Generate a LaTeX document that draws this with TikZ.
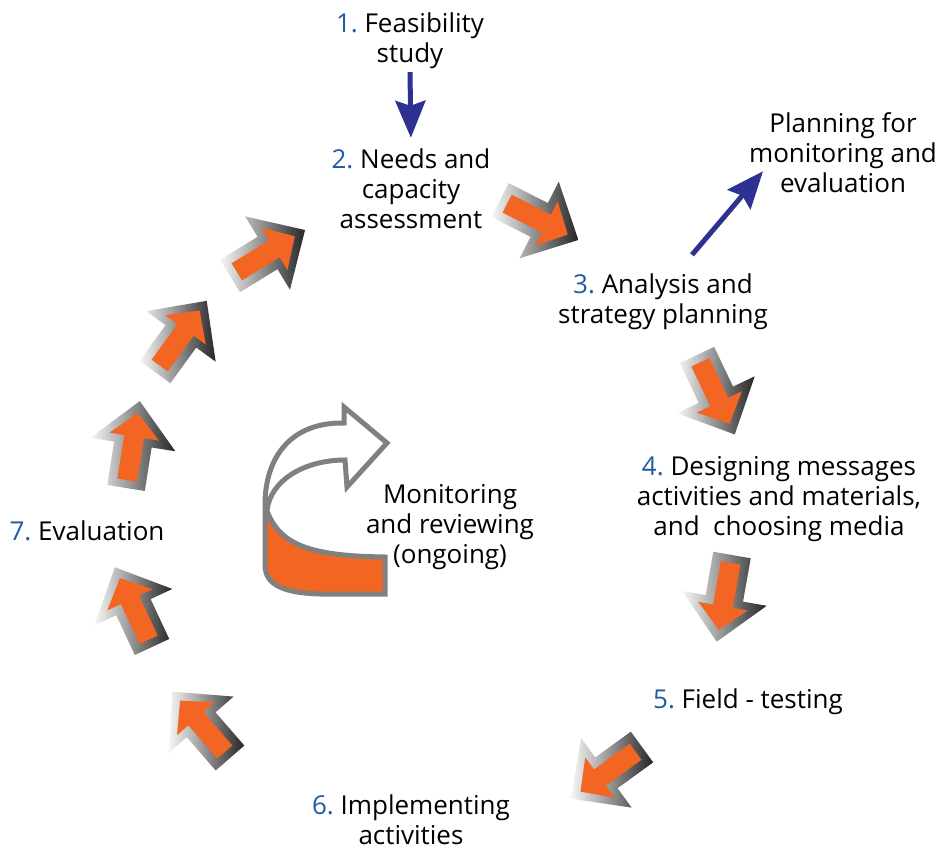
\documentclass[tikz,border=0pt]{standalone}
\usepackage{fontspec}
\setmainfont{Open Sans}
\usepackage{tikz}
\usetikzlibrary{arrows.meta}

\definecolor{cycleorange}{RGB}{242,101,34}
\definecolor{numblue}{RGB}{30,90,165}
\definecolor{arrowblue}{RGB}{46,49,146}
\definecolor{rimgray}{RGB}{128,128,128}

\frenchspacing
\newcommand{\stepno}[1]{\textcolor{numblue}{#1}}
% grey rimmed orange arrow: tail centre x, y, angle
\newcommand{\cyclearrow}[3]{%
\begin{scope}[shift={(#1,#2)}, rotate=#3]
\shade[arrowrim] (0,-19) -- (44,-19) -- (44,-43) -- (88,0) -- (44,43) -- (44,19) -- (0,19) -- cycle;
\fill[cycleorange] (8,-10) -- (52,-10) -- (52,-25) -- (76,0) -- (52,25) -- (52,10) -- (8,10) -- cycle;
\end{scope}}

\begin{document}
\begin{tikzpicture}[x=1pt, y=-1pt,
stagetext/.style={align=center, inner sep=0pt, font=\fontsize{26}{30}\selectfont},
arrowrim/.style={left color=gray!6, middle color=gray!70, right color=black!85},
bluearrow/.style={draw=arrowblue, line width=5pt, -{Stealth[length=37pt,width=30pt,inset=5pt]}},
ribbon/.style={draw=rimgray, line width=5pt},
]
\useasboundingbox (0,0) rectangle (943,853);

%Nodes
\node[stagetext] (feas)     at (410,41)  {\stepno{1.} Feasibility\\study};
\node[stagetext] (needs)    at (411,189) {\stepno{2.} Needs and\\capacity\\assessment};
\node[stagetext] (analysis) at (663,302) {\stepno{3.} Analysis and\\strategy planning};
\node[stagetext] (planning) at (843,153) {Planning for\\monitoring and\\evaluation};
\node[stagetext] (design)   at (779,499) {\stepno{4.} Designing messages\\activities and materials,\\and\ \ choosing media};
\node[stagetext] (field)    at (748,702) {\stepno{5.} Field - testing};
\node[stagetext] (implem)   at (411,820) {\stepno{6.} Implementing\\activities};
\node[stagetext] (evalu)    at (87,531)  {\stepno{7.} Evaluation};
\node[stagetext] (monitor)  at (450,527) {Monitoring\\and reviewing\\(ongoing)};

%Cycle arrows
\cyclearrow{500}{200}{-27}
\cyclearrow{697}{355}{-64.6}
\cyclearrow{732}{555}{-100}
\cyclearrow{642}{747}{-144}
\cyclearrow{230}{758}{131}
\cyclearrow{152}{647}{115}
\cyclearrow{126}{488}{81}
\cyclearrow{155}{372}{54}
\cyclearrow{230}{276}{31.5}

%Centre arrow
\fill[cycleorange] (267,511) .. controls (280,545) and (310,556) .. (385,557) -- (385,594) -- (320,594) .. controls (284,593) and (265,585) .. (265,565) -- cycle;
\draw[ribbon] (387,443) -- (344,407) -- (344,423) .. controls (292,422) and (265,456) .. (265,505) -- (265,565) .. controls (265,585) and (284,593) .. (320,594) -- (385,594) -- (385,557) .. controls (310,556) and (280,545) .. (267,511) .. controls (270,480) and (305,460) .. (345,460) -- (347,487) -- cycle;

%Lines
\draw[bluearrow, shorten <=3pt, shorten >=11pt] (feas.south) -- (needs.north);
\draw[bluearrow] ([xshift=29pt, yshift=19pt]analysis.north) -- ([xshift=-80pt, yshift=22pt]planning.south);

\end{tikzpicture}
\end{document}
